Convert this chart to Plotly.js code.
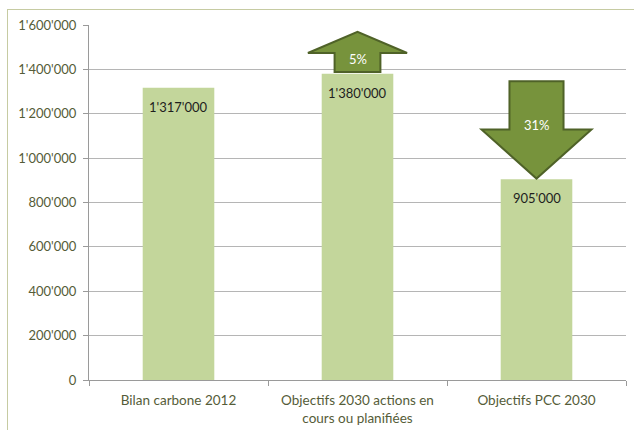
<!DOCTYPE html>
<html>
<head>
<meta charset="utf-8">
<script src="https://cdn.plot.ly/plotly-3.0.1.min.js"></script>
<style>
  html, body { margin: 0; padding: 0; background: #ffffff; overflow: hidden; }
  #frame { position: absolute; left: 7px; top: 9px; width: 700px; height: 500px;
           border: 1px solid #c6cba2; box-sizing: border-box; }
  #chart { position: absolute; left: 0; top: 0; width: 634px; height: 430px; }
</style>
</head>
<body>
<div id="frame"></div>
<div id="chart"></div>
<script>
// ---- data ----
const categories = ["Bilan carbone 2012", "Objectifs 2030 actions en<br>cours ou planifiées", "Objectifs PCC 2030"];
const values = [1317000, 1380000, 905000];
const changeLabels = ["5%", "31%"];          // change vs. 2012
const yTickMax = 1600000;
const yTickStep = 200000;

function fmt(v) { return String(v).replace(/\B(?=(\d{3})+(?!\d))/g, "'"); }

const barColor = "#c3d69b";
const arrowFill = "#77933c";
const arrowLine = "#4f6228";
const tickColor = "#555c38";
const fontFam = "Lato, 'Open Sans', sans-serif";

// arrows geometry (x in category index units, y from bar values)
const upIdx = 1, downIdx = 2;
const upBase = values[upIdx] + 8000;
const upHead = upBase + 86000;
const upTip = upBase + 181000;
const upHW = 0.277, upSW = 0.128;
const dnTip = values[downIdx] + 3000;
const dnHead = dnTip + 221000;
const dnTop = dnTip + 439000;
const dnHW = 0.307, dnSW = 0.151;

const upPath = `M ${upIdx - upSW} ${upBase} L ${upIdx - upSW} ${upHead} L ${upIdx - upHW} ${upHead} L ${upIdx} ${upTip} L ${upIdx + upHW} ${upHead} L ${upIdx + upSW} ${upHead} L ${upIdx + upSW} ${upBase} Z`;
const dnPath = `M ${downIdx - dnSW} ${dnTop} L ${downIdx - dnSW} ${dnHead} L ${downIdx - dnHW} ${dnHead} L ${downIdx} ${dnTip} L ${downIdx + dnHW} ${dnHead} L ${downIdx + dnSW} ${dnHead} L ${downIdx + dnSW} ${dnTop} Z`;

const trace = {
  type: "bar",
  x: categories,
  y: values,
  marker: { color: barColor, line: { width: 0 } },
  width: 0.4,
  hoverinfo: "skip"
};

const annotations = values.map((v, i) => ({
  x: categories[i], y: v, xref: "x", yref: "y",
  text: fmt(v), showarrow: false, yanchor: "middle", yshift: -19,
  font: { family: fontFam, size: 13, color: "#1e1e1e" }
}));
annotations.push({
  x: upIdx, y: (upBase + upHead) / 2 + 14000, xref: "x", yref: "y",
  text: changeLabels[0], showarrow: false,
  font: { family: fontFam, size: 13, color: "#ffffff" }
});
annotations.push({
  x: downIdx, y: dnHead + 20000, xref: "x", yref: "y",
  text: changeLabels[1], showarrow: false,
  font: { family: fontFam, size: 13, color: "#ffffff" }
});

const layout = {
  width: 634, height: 430,
  margin: { l: 89, r: 8, t: 25, b: 50 },
  paper_bgcolor: "rgba(0,0,0,0)",
  plot_bgcolor: "rgba(0,0,0,0)",
  separators: ".'",
  showlegend: false,
  bargap: 0.6,
  xaxis: {
    type: "category",
    tickson: "boundaries",
    ticks: "outside", ticklen: 5, tickcolor: "#9a9a9a",
    showline: true, linecolor: "#9a9a9a", linewidth: 1,
    showgrid: false, zeroline: false,
    ticklabelstandoff: 8,
    tickfont: { family: fontFam, size: 13.5, color: tickColor },
    range: [-0.5, 2.5], fixedrange: true
  },
  yaxis: {
    range: [0, yTickMax],
    dtick: yTickStep, tick0: 0,
    tickformat: ",d",
    ticks: "outside", ticklen: 5, tickcolor: "#9a9a9a",
    showline: true, linecolor: "#9a9a9a", linewidth: 1,
    showgrid: true, gridcolor: "#b5b5b5", gridwidth: 1,
    zeroline: false,
    ticklabelstandoff: 4,
    tickfont: { family: fontFam, size: 13, color: tickColor },
    fixedrange: true
  },
  shapes: [
    { type: "path", xref: "x", yref: "y", path: upPath, fillcolor: arrowFill, line: { color: arrowLine, width: 2 }, layer: "above" },
    { type: "path", xref: "x", yref: "y", path: dnPath, fillcolor: arrowFill, line: { color: arrowLine, width: 2 }, layer: "above" }
  ],
  annotations: annotations
};

Plotly.newPlot("chart", [trace], layout, { staticPlot: true, displayModeBar: false });
</script>
</body>
</html>
